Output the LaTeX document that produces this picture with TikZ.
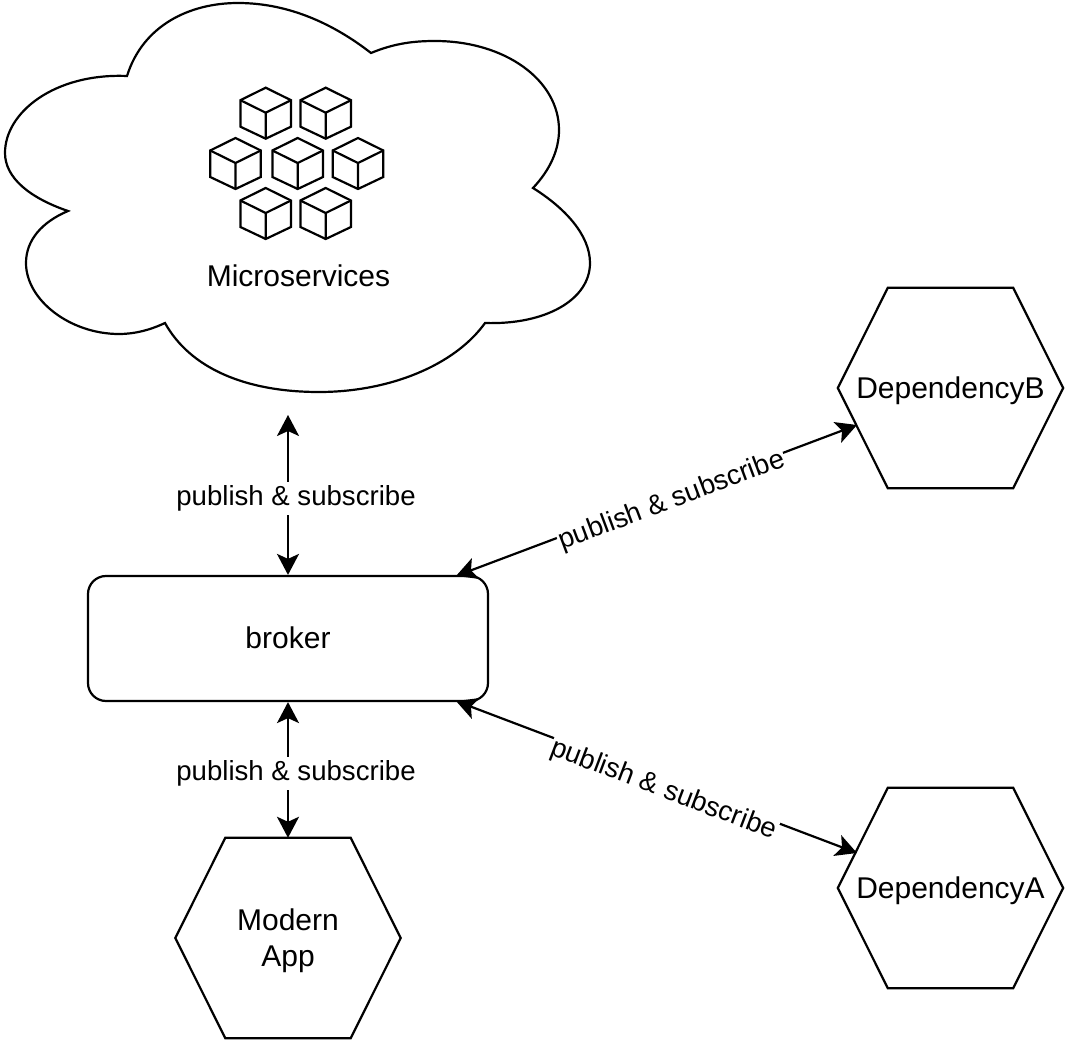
\documentclass[tikz,border=0pt]{standalone}
\usepackage{fontspec}
\setmainfont{Liberation Sans}
\usetikzlibrary{arrows.meta,calc}
\tikzset{
  outline/.style={draw=black,line width=2.2pt,line join=miter},
  nodetext/.style={font=\fontsize{30}{36}\selectfont,align=center,inner sep=0pt},
  linklabel/.style={font=\fontsize{27.6}{32}\selectfont,fill=white,inner xsep=1pt,inner ysep=3.5pt},
  link/.style={draw=black,line width=2.2pt,{Stealth[length=21pt,width=22pt,inset=5pt]}-{Stealth[length=21pt,width=22pt,inset=5pt]}},
}
% a cube, given its top vertex
\newcommand{\cubeat}[2]{%
  \begin{scope}[shift={(#1,#2)}]
    \draw[outline] (0,0) -- (25.3,12.5) -- (25.3,39) -- (0,51) -- (-25.3,39) -- (-25.3,12.5) -- cycle;
    \draw[outline] (-25.3,12.5) -- (0,25) -- (25.3,12.5) (0,25) -- (0,51);
  \end{scope}}
% a hexagon with its text node; #1 name, #2,#3 centre, #4 half width, #5 inset, #6 text
\newcommand{\hexat}[6]{%
  \node[minimum width=2*#4 pt,minimum height=200pt,inner sep=0pt] (#1) at (#2,#3) {};
  \draw[outline] (#1.west) -- ($(#1.north west)+(#5,0)$) -- ($(#1.north east)+(-#5,0)$) -- (#1.east)
     -- ($(#1.south east)+(-#5,0)$) -- ($(#1.south west)+(#5,0)$) -- cycle;
  \node[nodetext] (#1text) at (#2,#3+2.5) {#6};}
\begin{document}
\begin{tikzpicture}[x=1pt,y=-1pt]
\useasboundingbox (0,0) rectangle (1069,1043);
% cloud
\draw[outline] (127,76)
  .. controls (143,25) and (190,3) .. (238,3)
  .. controls (290,3) and (335,25) .. (371,53)
  .. controls (395,43) and (415,41) .. (435,41)
  .. controls (505,41) and (559,80) .. (559,130)
  .. controls (559,150) and (550,170) .. (533,188)
  .. controls (565,208) and (590,235) .. (590,263)
  .. controls (590,300) and (545,325) .. (485,323)
  .. controls (455,365) and (390,392) .. (319,392)
  .. controls (245,392) and (190,368) .. (165,323)
  .. controls (150,330) and (135,334) .. (119,334)
  .. controls (70,334) and (26,300) .. (26,263)
  .. controls (26,240) and (42,222) .. (68,211)
  .. controls (30,198) and (5,178) .. (5,153)
  .. controls (5,112) and (55,73) .. (127,76) -- cycle;
\cubeat{265.7}{87.7}
\cubeat{325.7}{87.7}
\cubeat{235.5}{138}
\cubeat{297.7}{138}
\cubeat{358}{138}
\cubeat{265.7}{188}
\cubeat{325.7}{188}
\node[nodetext] (micro) at (298.5,276) {Microservices};
\coordinate (cloudport) at (288,415);
% broker
\node[nodetext,draw=black,line width=2.2pt,rounded corners=18pt,minimum width=400pt,minimum height=125pt] (broker) at (288,638.5) {\raisebox{1pt}{broker}};
\coordinate (brokerNE) at (456,576);
\coordinate (brokerSE) at (456,701);
% hexagons
\hexat{depB}{950.5}{388}{112.5}{50}{DependencyB}
\hexat{depA}{950.5}{888}{112.5}{50}{DependencyA}
\hexat{app}{288}{938}{112.5}{50}{Modern\\App}
\coordinate (depBport) at (857,425);
\coordinate (depAport) at (857,853);
% connectors
\draw[link] (cloudport) -- (broker.north);
\draw[link] (broker.south) -- (app.north);
\draw[link] (brokerNE) -- (depBport);
\draw[link] (brokerSE) -- (depAport);
\node[linklabel] (l1) at (296,498.5) {publish \& subscribe};
\node[linklabel] (l2) at (296,773.5) {publish \& subscribe};
\node[linklabel,rotate=20.6] (l3) at (672,501) {publish \& subscribe};
\node[linklabel,rotate=-20.8] (l4) at (663.5,790) {publish \& subscribe};
\end{tikzpicture}
\end{document}
